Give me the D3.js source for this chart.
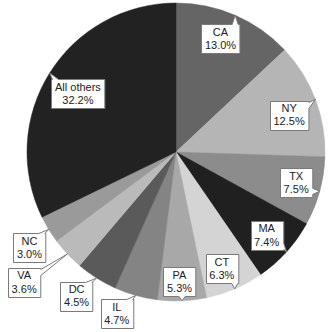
<!DOCTYPE html>
<html>
<head>
<meta charset="utf-8">
<script src="https://cdn.jsdelivr.net/npm/d3@7"></script>
<style>
  body { margin: 0; background: #fff; }
  svg text { font-family: "Liberation Sans", Arial, sans-serif; font-size: 11px; fill: #222; }
</style>
</head>
<body>
<div id="chart"></div>
<script>
(function() {
  'use strict';
  var WIDTH = 336;
  var HEIGHT = 332;

  // data, clockwise from 12 o'clock
  var states = ['CA', 'NY', 'TX', 'MA', 'CT', 'PA', 'IL', 'DC', 'VA', 'NC', 'All others'];
  var shares = [13.0, 12.5, 7.5, 7.4, 6.3, 5.3, 4.7, 4.5, 3.6, 3.0, 32.2];

  // styling / layout (not data)
  var fills = ['#656565', '#b5b5b5', '#8c8c8c', '#202020', '#d4d4d4', '#a8a8a8',
               '#848484', '#5a5a5a', '#bababa', '#9a9a9a', '#222222'];
  var labelR = [122, 119, 124, 123, 125, 130, 172, 175, 200, 175, 114];
  var labelShift = [-2, 2.6, -1, 0.4, 1.7, 0.8, 4.5, 2.4, 2.6, -1.8, -1.4]; // degrees

  var cx = 176, cy = 152, radius = 149;

  var svg = d3.select('#chart').append('svg')
    .attr('width', WIDTH)
    .attr('height', HEIGHT)
    .append('g')
    .attr('transform', 'translate(' + cx + ',' + cy + ')');

  var pie = d3.pie().sort(null).value(function(d) { return d; });
  var arcs = pie(shares);
  var arc = d3.arc().innerRadius(0).outerRadius(radius);
  var edgeArc = d3.arc().innerRadius(radius).outerRadius(radius);

  svg.selectAll('path.slice')
    .data(arcs)
    .enter().append('path')
    .attr('class', 'slice')
    .attr('d', arc)
    .attr('fill', function(d, i) { return fills[i]; })
    .attr('stroke', function(d, i) { return fills[i]; })
    .attr('stroke-width', 0.5);

  function calloutPath(x0, y0, x1, y1, tx, ty) {
    var ox = tx < x0 ? x0 - tx : (tx > x1 ? tx - x1 : 0);
    var oy = ty < y0 ? y0 - ty : (ty > y1 ? ty - y1 : 0);
    var h = 3;
    var px = Math.max(x0 + 4, Math.min(x1 - 4, tx));
    var py = Math.max(y0 + 4, Math.min(y1 - 4, ty));
    var pts = [];
    if (oy >= ox && ty < y0) {
      pts = [[x0, y0], [px - h, y0], [tx, ty], [px + h, y0], [x1, y0], [x1, y1], [x0, y1]];
    } else if (oy >= ox) {
      pts = [[x0, y0], [x1, y0], [x1, y1], [px + h, y1], [tx, ty], [px - h, y1], [x0, y1]];
    } else if (tx > x1) {
      pts = [[x0, y0], [x1, y0], [x1, py - h], [tx, ty], [x1, py + h], [x1, y1], [x0, y1]];
    } else {
      pts = [[x0, y0], [x1, y0], [x1, y1], [x0, y1], [x0, py + h], [tx, ty], [x0, py - h]];
    }
    return 'M' + pts.map(function(p) { return p.join(','); }).join('L') + 'Z';
  }

  var labels = svg.selectAll('g.label')
    .data(arcs)
    .enter().append('g')
    .attr('class', 'label');

  labels.each(function(d, i) {
    var g = d3.select(this);
    var mid = (d.startAngle + d.endAngle) / 2 + labelShift[i] * Math.PI / 180;
    var lx = labelR[i] * Math.sin(mid);
    var ly = -labelR[i] * Math.cos(mid);
    var tip = edgeArc.centroid(d);

    var txt = g.append('text')
      .attr('text-anchor', 'middle')
      .attr('x', lx)
      .attr('y', ly);
    txt.append('tspan').attr('x', lx).attr('dy', '-0.25em').text(states[i]);
    txt.append('tspan').attr('x', lx).attr('dy', '1.2em').text(d3.format('.1f')(shares[i]) + '%');

    var bb = txt.node().getBBox();
    var w = bb.width + 7, hgt = 29;
    var x0 = Math.round(lx - w / 2) + 0.5, y0 = Math.round(ly - hgt / 2) + 0.5;
    g.insert('path', 'text')
      .attr('d', calloutPath(x0, y0, x0 + w, y0 + hgt, tip[0], tip[1]))
      .attr('fill', '#fff')
      .attr('stroke', '#7a7a7a')
      .attr('stroke-width', 1);
  });
})();
</script>
</body>
</html>
